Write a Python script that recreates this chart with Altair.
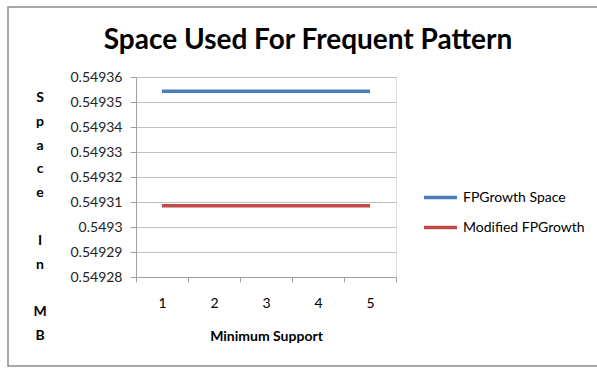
import altair as alt
import pandas as pd

support = ["1", "2", "3", "4", "5"]
fpgrowth_space = [0.5493543, 0.5493543, 0.5493543, 0.5493543, 0.5493543]
modified_fpgrowth = [0.5493085, 0.5493085, 0.5493085, 0.5493085, 0.5493085]
series_names = ["FPGrowth Space", "Modified FPGrowth"]
y_ticks = [0.54928, 0.54929, 0.5493, 0.54931, 0.54932, 0.54933, 0.54934, 0.54935, 0.54936]
colors = ["#4a7ebb", "#be4b48"]
chart_title = "Space Used For Frequent Pattern"
y_title_text = "S\np\na\nc\ne\n\u2800\nI\nn\n\u2800\nM\nB"

rows = []
for name, vals in zip(series_names, [fpgrowth_space, modified_fpgrowth]):
    for s, v in zip(support, vals):
        rows.append({"support": s, "value": v, "series": name})
df = pd.DataFrame(rows)

FONT = "Lato"

lines = alt.Chart(df).mark_line(strokeWidth=3.5).encode(
    x=alt.X(
        "support:O",
        bandPosition=0.5,
        scale=alt.Scale(type="band", paddingInner=0, paddingOuter=0),
        sort=support,
        axis=alt.Axis(
            title="Minimum Support",
            titleFont=FONT, titleFontSize=14, titleFontWeight="bold", titleColor="#000",
            titlePadding=19,
            labelAngle=0, labelFont=FONT, labelFontSize=14, labelColor="#000",
            labelPadding=14, tickBand="extent", tickSize=5, tickColor="#a0a0a0",
            domainColor="#a0a0a0", grid=False,
        ),
    ),
    y=alt.Y(
        "value:Q",
        scale=alt.Scale(domain=[y_ticks[0], y_ticks[-1]], zero=False, nice=False),
        axis=alt.Axis(
            values=y_ticks, format="~g", title=None,
            labelFont=FONT, labelFontSize=14, labelColor="#222",
            labelPadding=8, tickSize=6, tickColor="#a0a0a0",
            domainColor="#a0a0a0", gridColor="#c0c0c0",
        ),
    ),
    color=alt.Color(
        "series:N",
        sort=series_names,
        scale=alt.Scale(domain=series_names, range=colors),
        legend=alt.Legend(
            title=None, orient="none", legendX=286, legendY=102,
            symbolType="stroke", symbolSize=1089, symbolStrokeWidth=3.5,
            labelFont=FONT, labelFontSize=14, labelColor="#000",
            rowPadding=4, labelOffset=4,
        ),
    ),
)

frame = alt.Chart(pd.DataFrame({"a": [0]})).mark_rect(
    fill=None, stroke="#8c8c8c", strokeWidth=1.5
).encode(
    x=alt.value(8 - 136), x2=alt.value(640 - 136),
    y=alt.value(7 - 77), y2=alt.value(366 - 77),
)

title = alt.Chart(pd.DataFrame({"t": [chart_title]})).mark_text(
    font=FONT, fontSize=28, fontWeight="bold", color="#000",
    align="center", baseline="alphabetic",
).encode(
    text="t:N", x=alt.value(308 - 136), y=alt.value(49 - 77),
)

ytitle = alt.Chart(pd.DataFrame({"t": [y_title_text]})).mark_text(
    font=FONT, fontSize=14, fontWeight="bold", color="#000",
    align="center", baseline="top", lineBreak="\n", lineHeight=23.8,
).encode(
    text="t:N", x=alt.value(40 - 136), y=alt.value(91 - 77),
)

chart = alt.layer(frame, title, ytitle, lines).properties(
    width=260, height=200,
    autosize=alt.AutoSizeParams(type="none"),
    padding={"left": 136, "top": 77, "right": 201, "bottom": 91},
).configure_view(stroke=None).configure(background="white")

chart.save("out.html", embed_options={"renderer": "svg", "actions": False})
